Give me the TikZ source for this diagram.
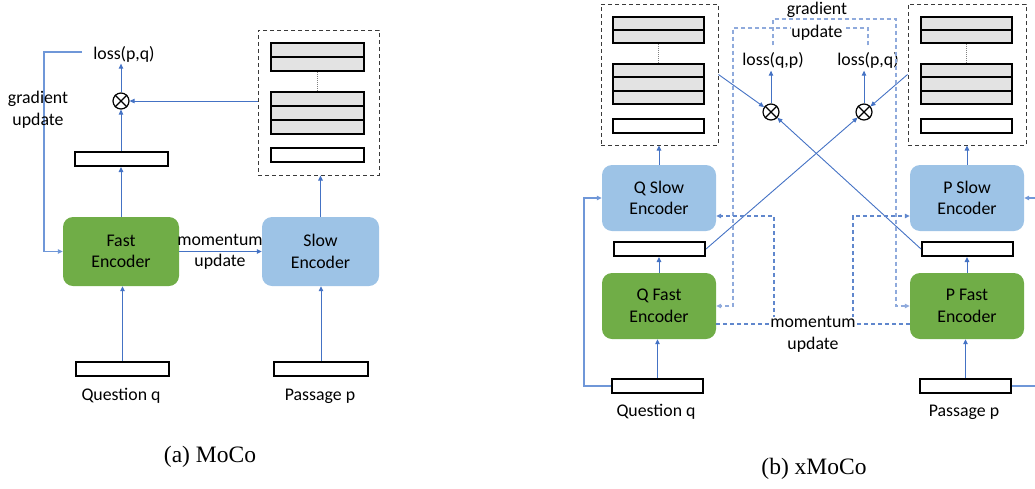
\documentclass[tikz,border=0pt]{standalone}
\usepackage{fontspec}
\setmainfont{Carlito}
\newfontfamily\capfont{Liberation Serif}
\usetikzlibrary{arrows.meta}

\definecolor{fastgreen}{HTML}{70AD47}
\definecolor{slowblue}{HTML}{9DC3E6}
\definecolor{flow}{HTML}{4472C4}
\definecolor{gradline}{HTML}{8FAADC}
\definecolor{sideline}{HTML}{6F97D8}
\definecolor{rowgray}{HTML}{E3E3E3}
\definecolor{bankline}{HTML}{3A3A3A}

\tikzset{
  txt/.style={font=\fontsize{17.8}{21.5}\selectfont, align=center, inner sep=0pt, text=black},
  encbox/.style={txt, rounded corners=10pt, draw=none},
  fastenc/.style={encbox, fill=fastgreen},
  slowenc/.style={encbox, fill=slowblue},
  embbar/.style={draw=black, line width=2pt, fill=white, minimum width=93pt, minimum height=14pt, inner sep=0pt},
  memrow/.style={embbar, fill=rowgray},
  membank/.style={draw=bankline, line width=1pt, dash pattern=on 4pt off 3pt, inner sep=0pt},
  gapline/.style={draw=gray, line width=0.9pt, dash pattern=on 1pt off 1pt},
  dotop/.style={circle, draw=black, line width=1.2pt, fill=white, minimum size=16pt, inner sep=0pt},
  tip/.style={-{Triangle[length=5pt,width=4.5pt]}},
  flowarrow/.style={draw=flow, line width=1pt, tip},
  crossarrow/.style={draw=flow, line width=0.9pt, tip},
  sidearrow/.style={draw=sideline, line width=1.1pt, tip},
  graddash/.style={draw=gradline, line width=1.2pt, dash pattern=on 4pt off 3pt, tip},
  momdash/.style={draw=flow!85!white, line width=1.1pt, dash pattern=on 4pt off 3pt, tip},
  caption/.style={font=\capfont\fontsize{23.5}{28}\selectfont, inner sep=0pt}
}

\begin{document}
\begin{tikzpicture}[x=1pt, y=-1pt]
\useasboundingbox (0,0) rectangle (1035,488);
\clip (0,0) rectangle (1035,488);

% ---------------- (a) MoCo ----------------
\node[fastenc, minimum width=116pt, minimum height=69pt] (fastA) at (121,251.5) {Fast\\Encoder};
\node[slowenc, minimum width=117pt, minimum height=69pt] (slowA) at (320.5,251.5) {Slow\\Encoder};
\node[embbar] (embA) at (121.5,159) {};
\node[dotop] (mulA) at (121,101) {};
\draw[line width=1.2pt] (mulA.45) -- (mulA.225) (mulA.135) -- (mulA.315);
\node[txt] (lossA) at (124,54) {loss(p,q)};

% memory bank of passage embeddings
\node[membank, minimum width=121pt, minimum height=145pt] (bankA) at (318.5,102.5) {};
\node[memrow] (bankA1) at (317.5,50) {};
\node[memrow] (bankA2) at (317.5,64) {};
\node[memrow] (bankA3) at (317.5,99) {};
\node[memrow] (bankA4) at (317.5,113) {};
\node[memrow] (bankA5) at (317.5,127) {};
\node[embbar] (bankA6) at (317.5,155) {};
\draw[gapline] (bankA2.south) -- (bankA3.north);

% inputs
\node[embbar] (qA) at (122.5,369) {};
\node[txt] (qlabA) at (121,396) {Question q};
\node[embbar, minimum width=94pt] (pA) at (321,369) {};
\node[txt] (plabA) at (320,396) {Passage p};

% connectors
\draw[flowarrow] (qA.north) -- (qA.north |- fastA.south);
\draw[flowarrow] (pA.north) -- (pA.north |- slowA.south);
\draw[flowarrow] (fastA.north) -- (fastA.north |- embA.south);
\draw[flowarrow] (embA.north -| mulA.south) -- (mulA.south);
\draw[flowarrow] (mulA.north) -- ([yshift=-1.5pt]lossA.south -| mulA.north);
\draw[flowarrow] (bankA.west |- mulA.east) -- (mulA.east);
\draw[flowarrow] (slowA.north) -- (slowA.north |- bankA.south);
\draw[flowarrow] (fastA.east) -- (slowA.west);
\node[txt] (momA) at (220,252) {momentum\\update};

\coordinate (gA) at (44,52);
\draw[sidearrow] ([xshift=-11pt]lossA.west |- gA) -- (gA) |- (fastA.west);
\node[txt] (gradA) at (38,110) {gradient\\update};

\node[caption] (capA) at (210,457) {(a) MoCo};

% ---------------- (b) xMoCo ----------------
\node[slowenc, minimum width=114pt, minimum height=66pt] (qslow) at (659,198) {Q Slow\\Encoder};
\node[fastenc, minimum width=114pt, minimum height=66pt] (qfast) at (659,306) {Q Fast\\Encoder};
\node[embbar, minimum width=91pt] (qemb) at (659.5,249) {};
\node[embbar, minimum width=91pt] (qin) at (657.5,386) {};
\node[txt] (qlab) at (656,412) {Question q};

\node[slowenc, minimum width=114pt, minimum height=66pt] (pslow) at (967,198) {P Slow\\Encoder};
\node[fastenc, minimum width=114pt, minimum height=66pt] (pfast) at (967,306) {P Fast\\Encoder};
\node[embbar, minimum width=91pt] (pemb) at (967.5,249) {};
\node[embbar, minimum width=91pt] (pin) at (965.5,386) {};
\node[txt] (plab) at (964,412) {Passage p};

% question-side memory bank
\node[membank, minimum width=117pt, minimum height=141pt] (qbank) at (659.5,74.5) {};
\node[memrow, minimum width=91pt, minimum height=13pt] (qbank1) at (658.5,23.5) {};
\node[memrow, minimum width=91pt, minimum height=13pt] (qbank2) at (658.5,36.5) {};
\node[memrow, minimum width=91pt, minimum height=13.3pt] (qbank3) at (658.5,70.7) {};
\node[memrow, minimum width=91pt, minimum height=13.3pt] (qbank4) at (658.5,84) {};
\node[memrow, minimum width=91pt, minimum height=13.3pt] (qbank5) at (658.5,97.3) {};
\node[embbar, minimum width=91pt] (qbank6) at (658.5,125.5) {};
\draw[gapline] (qbank2.south) -- (qbank3.north);

% passage-side memory bank
\node[membank, minimum width=118pt, minimum height=141pt] (pbank) at (967,74.5) {};
\node[memrow, minimum width=91pt, minimum height=13pt] (pbank1) at (966.5,23.5) {};
\node[memrow, minimum width=91pt, minimum height=13pt] (pbank2) at (966.5,36.5) {};
\node[memrow, minimum width=91pt, minimum height=13.3pt] (pbank3) at (966.5,70.7) {};
\node[memrow, minimum width=91pt, minimum height=13.3pt] (pbank4) at (966.5,84) {};
\node[memrow, minimum width=91pt, minimum height=13.3pt] (pbank5) at (966.5,97.3) {};
\node[embbar, minimum width=91pt] (pbank6) at (966.5,125.5) {};
\draw[gapline] (pbank2.south) -- (pbank3.north);

% similarity and losses
\node[dotop] (xq) at (771,112) {};
\draw[line width=1.2pt] (xq.45) -- (xq.225) (xq.135) -- (xq.315);
\node[dotop] (xp) at (864,112) {};
\draw[line width=1.2pt] (xp.45) -- (xp.225) (xp.135) -- (xp.315);
\node[txt] (lossq) at (773,60.5) {loss(q,p)};
\node[txt] (lossp) at (868,60.5) {loss(p,q)};

% vertical flow
\draw[flowarrow] (qin.north) -- (qin.north |- qfast.south);
\draw[flowarrow] (qfast.north) -- (qfast.north |- qemb.south);
\draw[flowarrow] (qslow.north) -- (qslow.north |- qbank.south);
\draw[flowarrow] (pin.north) -- (pin.north |- pfast.south);
\draw[flowarrow] (pfast.north) -- (pfast.north |- pemb.south);
\draw[flowarrow] (pslow.north) -- (pslow.north |- pbank.south);
\draw[flowarrow] (xq.north) -- ([yshift=-2pt]lossq.south -| xq.north);
\draw[flowarrow] (xp.north) -- ([yshift=-2pt]lossp.south -| xp.north);

% inputs also feed the slow encoders
\coordinate (sq) at (584,198);
\coordinate (sp) at (1040,198);
\draw[sidearrow] (qin.west) -| (sq) -- (qslow.west);
\draw[sidearrow] (pin.east) -| (sp) -- (pslow.east);

% cross similarities
\draw[crossarrow] (qemb.east) -- (xp);
\draw[crossarrow] (pemb.west) -- (xq);
\draw[crossarrow] (qbank.east) -- (xq);
\draw[crossarrow] (pbank.west) -- (xp);

% gradient updates
\coordinate (gq) at (896,19);
\coordinate (gp) at (733,28);
\draw[graddash] ([yshift=7pt]lossq.north) |- (gq) |- (pfast.west);
\draw[graddash] ([yshift=7pt]lossp.north) |- (gp) |- (qfast.east);
\node[txt] (gradB) at (817,9.5) {gradient};
\node[txt, fill=white] (updB) at (817,32.5) {update};

% momentum updates
\coordinate (mq) at (774,216);
\coordinate (mp) at (853,216);
\draw[momdash] ([yshift=-18pt]qfast.east) -| (mq) -- ([yshift=-18pt]qslow.east);
\draw[momdash] ([yshift=-18pt]pfast.west) -| (mp) -- ([yshift=-18pt]pslow.west);
\node[txt, fill=white] (momB) at (813,334.5) {momentum\\update};

\node[caption] (capB) at (814,469) {(b) xMoCo};
\end{tikzpicture}
\end{document}
